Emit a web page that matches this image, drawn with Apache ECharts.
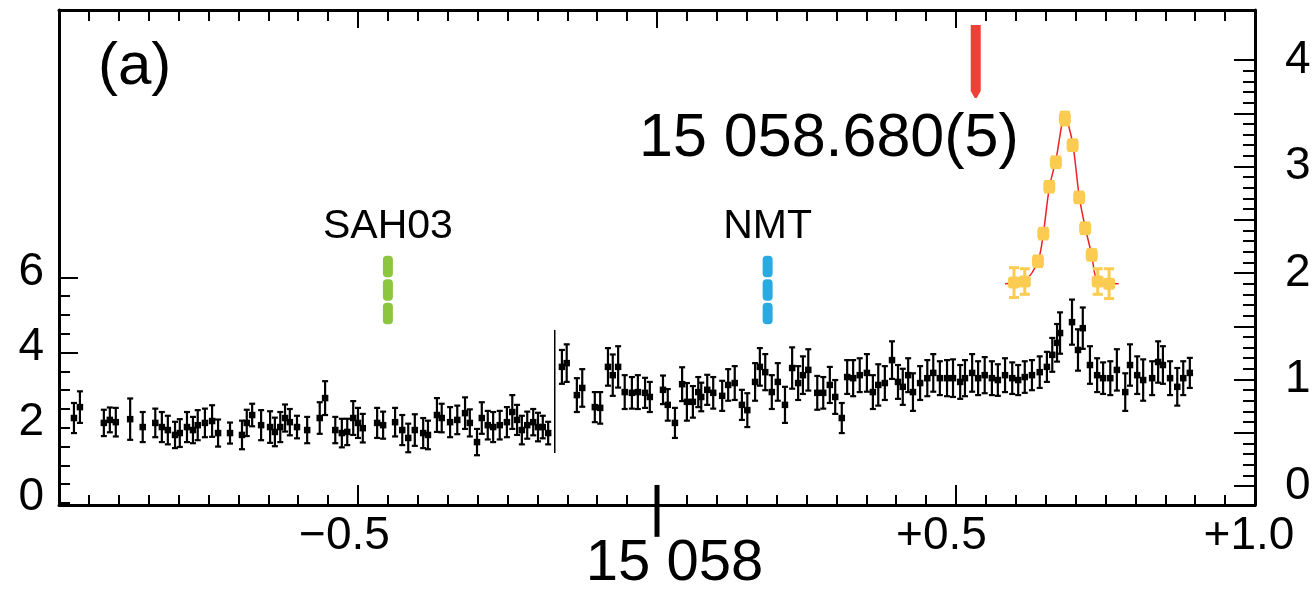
<!DOCTYPE html>
<html><head><meta charset="utf-8">
<script src="https://cdn.jsdelivr.net/npm/echarts/dist/echarts.min.js"></script>
<style>html,body{margin:0;padding:0;background:#fff}#c{width:1316px;height:589px}</style>
</head><body><div id="c"></div>
<script>
// ---- data (x in units relative to 15 058, left-axis counts) ----
const dataX = [
-0.975,-0.965,-0.925,-0.915,-0.905,-0.881,-0.860,-0.839,-0.828,-0.818,-0.806,-0.798,-0.786,-0.776,-0.768,-0.756,-0.744,-0.734,-0.714,-0.694,-0.686,-0.677,
-0.662,-0.647,-0.639,-0.630,-0.622,-0.614,-0.602,-0.585,-0.564,-0.555,-0.538,-0.527,-0.518,-0.508,-0.500,-0.492,-0.468,-0.458,-0.438,-0.426,-0.416,-0.405,-0.391,-0.383,-0.368,-0.360,-0.346,
-0.334,-0.321,-0.313,-0.301,-0.293,-0.283,-0.274,-0.263,-0.251,-0.242,-0.234,-0.226,-0.217,-0.207,-0.199,-0.191,-0.182,
-0.159,-0.151,-0.134,-0.125,-0.104,-0.095,-0.082,-0.074,-0.065,-0.054,-0.042,-0.032,-0.020,
-0.012,0.010,0.018,0.030,0.042,0.050,0.060,0.069,0.074,0.084,0.094,0.109,0.119,0.130,0.142,0.151,0.164,0.172,0.181,0.192,0.202,0.214,0.226,0.236,0.244,0.253,0.268,0.278,0.289,0.298,0.309,
0.318,0.328,0.339,0.351,0.361,0.370,0.381,0.393,0.403,0.411,0.420,0.428,0.440,0.452,0.462,0.473,0.485,0.495,0.507,0.515,0.527,0.537,0.548,0.560,0.570,0.582,0.594,0.604,0.615,0.627,
0.640,0.652,0.661,0.669,0.674,0.694,0.704,0.712,0.724,0.736,0.746,0.758,0.769,0.783,0.791,0.803,0.813,0.828,0.838,0.846,0.858,0.870,0.880,0.891
];
const dataY = [
2.26,2.55,2.13,2.21,2.15,2.23,2.02,2.13,2.02,1.94,1.81,1.86,2.02,1.94,2.07,2.13,2.18,1.86,1.86,1.81,2.13,2.34,
2.07,2.02,1.89,2.02,2.26,2.15,2.02,1.94,2.26,2.79,1.94,1.86,1.89,2.26,2.13,1.99,2.13,2.07,2.15,1.94,1.73,1.94,1.86,1.81,2.34,2.26,2.15,
2.21,2.39,2.13,1.62,2.26,2.07,2.02,2.07,2.15,2.42,2.21,1.94,2.07,2.15,2.02,2.02,1.86,
3.62,3.72,2.87,3.06,2.55,2.53,3.62,3.40,3.62,2.95,2.93,2.95,2.93,
2.82,3.01,2.61,2.13,3.16,2.69,2.69,2.95,2.82,3.01,2.93,2.85,3.14,3.19,2.61,2.47,3.22,3.62,3.48,2.95,3.22,2.61,3.59,3.19,3.40,3.54,2.93,2.93,3.14,2.82,2.26,
3.35,3.32,3.40,3.46,2.95,3.14,3.19,3.80,3.22,3.09,3.40,2.95,3.19,3.32,3.46,3.32,3.32,3.32,3.22,3.32,3.46,3.32,3.40,3.32,3.27,3.40,3.32,3.27,3.35,3.40,
3.48,3.62,3.94,4.26,4.52,4.81,4.07,4.65,3.67,3.40,3.32,3.32,3.54,2.95,3.67,3.40,3.27,3.32,3.75,3.67,3.32,3.09,3.32,3.46
];
const dataErr = [
0.40,0.42,0.35,0.33,0.38,0.55,0.40,0.38,0.40,0.38,0.35,0.37,0.40,0.35,0.40,0.38,0.42,0.36,0.28,0.38,0.35,0.30,
0.40,0.42,0.38,0.40,0.36,0.35,0.30,0.35,0.42,0.45,0.35,0.38,0.35,0.45,0.40,0.38,0.40,0.36,0.38,0.40,0.38,0.42,0.40,0.38,0.45,0.38,0.40,
0.38,0.42,0.36,0.35,0.42,0.38,0.40,0.38,0.40,0.45,0.40,0.38,0.36,0.35,0.38,0.30,0.30,
0.45,0.50,0.45,0.50,0.40,0.42,0.50,0.55,0.55,0.45,0.42,0.45,0.40,
0.40,0.38,0.42,0.40,0.45,0.50,0.42,0.40,0.38,0.40,0.42,0.40,0.42,0.45,0.40,0.45,0.50,0.50,0.48,0.45,0.50,0.48,0.55,0.45,0.50,0.55,0.45,0.42,0.48,0.45,0.40,
0.45,0.48,0.45,0.50,0.45,0.55,0.45,0.50,0.45,0.48,0.45,0.50,0.45,0.48,0.50,0.45,0.48,0.50,0.45,0.48,0.50,0.45,0.48,0.45,0.42,0.45,0.42,0.40,0.42,0.40,
0.42,0.40,0.45,0.50,0.55,0.60,0.55,0.55,0.50,0.45,0.42,0.45,0.55,0.50,0.55,0.50,0.55,0.45,0.55,0.50,0.45,0.50,0.45,0.40
];
// inset peak (right axis)
const peakX = [0.597,0.615,0.637,0.646,0.656,0.667,0.682,0.695,0.706,0.716,0.727,0.737,0.756];
const peakY = [1.91,1.92,2.11,2.37,2.81,3.04,3.45,3.20,2.71,2.42,2.17,1.92,1.90];
const peakErr = [0.14,0.12,0.05,0.05,0.05,0.05,0.06,0.05,0.05,0.05,0.05,0.12,0.14];
const fitX = [0.582,0.615,0.637,0.646,0.656,0.667,0.682,0.695,0.706,0.716,0.727,0.737,0.772];
const fitY = [1.90,1.93,2.11,2.37,2.80,3.06,3.47,3.22,2.72,2.43,2.17,1.93,1.90];
// reference markers
const markerNames = ['SAH03','NMT'];
const markerColors = ['#8CC63F','#29ABE2'];
const markerX = [-0.45, 0.185];
const markerLow = [4.73, 4.73];
const markerHigh = [6.60, 6.60];
const resultX = [0.533];
const resultLow = [10.77];
const resultHigh = [12.71];
const resultText = '15 058.680(5)';
const stepX = [-0.171, -0.171];
const stepY = [1.33, 4.60];
const centerTickX = [0, 0];
const centerTickY = [-0.90, 0.48];
const xLabels = {'-0.5':'{m|−0.5}','0':'{z|15 058}','0.5':'{p|+0.5}','1':'{q|+1.0}'};
const panelLabel = '(a)';

const FF = "'Liberation Sans', Arial, Helvetica, sans-serif";
const chart = echarts.init(document.getElementById('c'), null, {renderer:'canvas'});

const baseX = (grid) => ({gridIndex:grid, type:'value', min:-1, max:1, show:false});

function renderPts(params, api){
  const x=api.value(0), y=api.value(1), e=api.value(2);
  const p=api.coord([x,y]), hi=api.coord([x,y+e]), lo=api.coord([x,y-e]);
  const s=6.5, c=3;
  return {type:'group', children:[
    {type:'line', shape:{x1:p[0],y1:hi[1],x2:p[0],y2:lo[1]}, style:{stroke:'#000',lineWidth:2.2}},
    {type:'line', shape:{x1:p[0]-c,y1:hi[1],x2:p[0]+c,y2:hi[1]}, style:{stroke:'#000',lineWidth:2.2}},
    {type:'line', shape:{x1:p[0]-c,y1:lo[1],x2:p[0]+c,y2:lo[1]}, style:{stroke:'#000',lineWidth:2.2}},
    {type:'rect', shape:{x:p[0]-s/2,y:p[1]-s/2,width:s,height:s}, style:{fill:'#000'}}
  ]};
}
function renderMarkers(params, api){
  const i=params.dataIndex;
  const b=api.coord([api.value(0), api.value(1)]), t=api.coord([api.value(0), api.value(2)]);
  const w=10, seg=(b[1]-t[1])/3;
  const ch=[];
  for(let k=0;k<3;k++){
    ch.push({type:'rect', shape:{x:b[0]-w/2, y:t[1]+k*seg+1, width:w, height:seg-2, r:4}, style:{fill:markerColors[i]}});
  }
  ch.push({type:'text', x:b[0], y:t[1]-28, style:{text:markerNames[i], fontSize:41, fontFamily:FF, fill:'#000', align:'center', verticalAlign:'middle'}});
  return {type:'group', children:ch};
}
function renderResult(params, api){
  const b=api.coord([api.value(0), api.value(1)]), t=api.coord([api.value(0), api.value(2)]);
  const h=5;
  return {type:'polygon', shape:{points:[[b[0]-h,t[1]],[b[0]+h,t[1]],[b[0]+h,b[1]-7],[b[0]+1,b[1]],[b[0]-1,b[1]],[b[0]-h,b[1]-7]]}, style:{fill:'#EE4036'}};
}
function renderPeak(params, api){
  const x=api.value(0), y=api.value(1), e=api.value(2);
  const p=api.coord([x,y]), hi=api.coord([x,y+e]), lo=api.coord([x,y-e]);
  const s=12, c=5, col='#FBCB52';
  return {type:'group', children:[
    {type:'line', shape:{x1:p[0],y1:hi[1],x2:p[0],y2:lo[1]}, style:{stroke:col,lineWidth:3}},
    {type:'line', shape:{x1:p[0]-c,y1:hi[1],x2:p[0]+c,y2:hi[1]}, style:{stroke:col,lineWidth:3}},
    {type:'line', shape:{x1:p[0]-c,y1:lo[1],x2:p[0]+c,y2:lo[1]}, style:{stroke:col,lineWidth:3}},
    {type:'rect', shape:{x:p[0]-s/2,y:p[1]-s/2,width:s,height:s,r:3}, style:{fill:col}}
  ]};
}

const option = {
  animation:false,
  backgroundColor:'#fff',
  title:[
    {text:panelLabel, left:98, top:37, padding:0, textStyle:{fontSize:60, fontWeight:'normal', fontFamily:FF, color:'#000'}},
    {text:resultText, left:639, top:109, padding:0, textStyle:{fontSize:61, fontWeight:'normal', fontFamily:FF, color:'#000'}}
  ],
  grid:[
    {left:59, right:61, top:10, bottom:84, outerBoundsMode:'none'},
    {left:59, right:61, top:277.4, bottom:86, outerBoundsMode:'none'},
    {left:59, right:61, top:277.4, bottom:236.2, outerBoundsMode:'none'},
    {left:59, right:61, top:60, bottom:103, outerBoundsMode:'none'}
  ],
  xAxis:[
    {gridIndex:0, type:'value', position:'bottom', min:-1, max:1, interval:0.5,
      axisLine:{show:true, onZero:false, lineStyle:{color:'#000', width:3}},
      axisTick:{show:true, inside:true, length:20, lineStyle:{color:'#000', width:2}},
      minorTick:{show:true, splitNumber:10, length:10, lineStyle:{color:'#000', width:2}},
      splitLine:{show:false}, minorSplitLine:{show:false},
      axisLabel:{show:true, margin:8, color:'#000', fontSize:46, fontFamily:FF,
        formatter:(v)=>{const k=String(Math.round(v*10)/10); return xLabels[k]||'';},
        rich:{
          m:{fontSize:46, fontFamily:FF, color:'#000', padding:[0,27,0,0]},
          z:{fontSize:58, fontFamily:FF, color:'#000', padding:[22,0,0,35]},
          p:{fontSize:46, fontFamily:FF, color:'#000', padding:[0,29,0,0]},
          q:{fontSize:46, fontFamily:FF, color:'#000', padding:[0,12,0,0]}
        }}
    },
    {gridIndex:0, type:'value', position:'top', min:-1, max:1, interval:0.5,
      axisLine:{show:true, onZero:false, lineStyle:{color:'#000', width:3}},
      axisTick:{show:true, inside:true, length:18, lineStyle:{color:'#000', width:2}},
      minorTick:{show:true, splitNumber:10, length:11, lineStyle:{color:'#000', width:2}},
      splitLine:{show:false}, minorSplitLine:{show:false}, axisLabel:{show:false}
    },
    baseX(1), baseX(2), baseX(3)
  ],
  yAxis:[
    {gridIndex:0, type:'value', position:'left', min:-0.0532, max:13.112,
      axisLine:{show:true, onZero:false, lineStyle:{color:'#000', width:3}},
      axisTick:{show:false}, axisLabel:{show:false}, splitLine:{show:false}},
    {gridIndex:0, type:'value', position:'right', min:-0.0532, max:13.112,
      axisLine:{show:true, onZero:false, lineStyle:{color:'#000', width:3}},
      axisTick:{show:false}, axisLabel:{show:false}, splitLine:{show:false}},
    {gridIndex:1, type:'value', position:'left', min:0, max:6, interval:0.5,
      axisLine:{show:false, onZero:false},
      axisTick:{show:true, inside:true, length:11, lineStyle:{color:'#000', width:2}},
      splitLine:{show:false},
      axisLabel:{show:true, margin:15, color:'#000', fontSize:46, fontFamily:FF,
        formatter:(v)=> (Math.abs(v%2)<1e-9 ? '{a|'+v+'}' : ''),
        rich:{a:{fontSize:46, fontFamily:FF, color:'#000', padding:[0,0,11,0]}}}
    },
    {gridIndex:2, type:'value', position:'left', min:4, max:6, interval:2,
      axisLine:{show:false, onZero:false},
      axisTick:{show:true, inside:true, length:19, lineStyle:{color:'#000', width:2}},
      splitLine:{show:false}, axisLabel:{show:false}},
    {gridIndex:3, type:'value', position:'right', min:0, max:4, interval:0.5,
      axisLine:{show:false, onZero:false},
      axisTick:{show:true, inside:true, length:21, lineStyle:{color:'#000', width:2}},
      minorTick:{show:true, splitNumber:5, length:12, lineStyle:{color:'#000', width:2}},
      splitLine:{show:false}, minorSplitLine:{show:false},
      axisLabel:{show:true, margin:30, color:'#000', fontSize:46, fontFamily:FF,
        formatter:(v)=> (Math.abs(v-Math.round(v))<1e-9 ? String(Math.round(v)) : '')}
    }
  ],
  series:[
    {type:'custom', xAxisIndex:0, yAxisIndex:0, renderItem:renderPts,
      data:dataX.map((x,i)=>[x,dataY[i],dataErr[i]]), z:3},
    {type:'line', xAxisIndex:0, yAxisIndex:0, symbol:'none', clip:false,
      data:stepX.map((x,i)=>[x,stepY[i]]), lineStyle:{color:'#000', width:1.5}, z:3},
    {type:'line', xAxisIndex:0, yAxisIndex:0, symbol:'none', clip:false,
      data:centerTickX.map((x,i)=>[x,centerTickY[i]]), lineStyle:{color:'#000', width:5, cap:'butt'}, z:5},
    {type:'custom', xAxisIndex:0, yAxisIndex:0, renderItem:renderMarkers, clip:false,
      data:markerX.map((x,i)=>[x,markerLow[i],markerHigh[i]]), z:4},
    {type:'custom', xAxisIndex:0, yAxisIndex:0, renderItem:renderResult, clip:false,
      data:resultX.map((x,i)=>[x,resultLow[i],resultHigh[i]]), z:4},
    {type:'line', xAxisIndex:4, yAxisIndex:4, symbol:'none', smooth:0.3, clip:false,
      data:fitX.map((x,i)=>[x,fitY[i]]), lineStyle:{color:'#ED2024', width:1.5}, z:3},
    {type:'custom', xAxisIndex:4, yAxisIndex:4, renderItem:renderPeak, clip:false,
      data:peakX.map((x,i)=>[x,peakY[i],peakErr[i]]), z:4}
  ]
};
chart.setOption(option);
</script>
</body></html>
